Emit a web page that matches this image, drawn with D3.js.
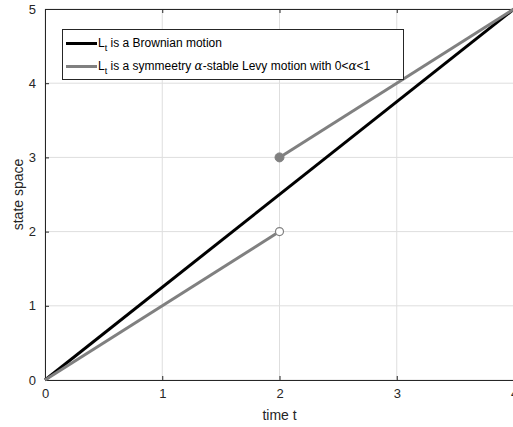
<!DOCTYPE html>
<html>
<head>
<meta charset="utf-8">
<script src="https://cdn.jsdelivr.net/npm/d3@7"></script>
<style>
  body { margin: 0; background: #fff; }
  svg { display: block; font-family: "Liberation Sans", Arial, sans-serif; }
</style>
</head>
<body>
<svg id="chart"></svg>
<script>
// data
const brownian = [{ t: 0, x: 0 }, { t: 4, x: 5 }];
const levyBefore = [{ t: 0, x: 0 }, { t: 2, x: 2 }];
const levyAfter = [{ t: 2, x: 3 }, { t: 4, x: 5 }];
const openPoints = [{ t: 2, x: 2 }];
const filledPoints = [{ t: 2, x: 3 }];
const xTicks = [0, 1, 2, 3, 4];
const yTicks = [0, 1, 2, 3, 4, 5];

const width = 513, height = 427;
const margins = { left: 45, right: -1, top: 9, bottom: 47 };

const svg = d3.select("svg#chart").attr("width", width).attr("height", height);

const xScale = d3.scaleLinear().domain([0, 4])
  .range([margins.left, width - margins.right]);
const yScale = d3.scaleLinear().domain([0, 5])
  .range([height - margins.bottom, margins.top]);

// grid
const grid = svg.append("g").attr("id", "grid");
grid.selectAll("line.gx").data(xTicks).join("line")
  .attr("class", "gx")
  .attr("x1", d => xScale(d)).attr("x2", d => xScale(d))
  .attr("y1", yScale(0)).attr("y2", yScale(5))
  .attr("stroke", "#dedede").attr("stroke-width", 1);
grid.selectAll("line.gy").data(yTicks).join("line")
  .attr("class", "gy")
  .attr("x1", xScale(0)).attr("x2", xScale(4))
  .attr("y1", d => yScale(d)).attr("y2", d => yScale(d))
  .attr("stroke", "#dedede").attr("stroke-width", 1);

// axes (ticks pointing inward like matlab)
const fmt = d3.format("d");
const xAxis = svg.append("g")
  .attr("transform", `translate(0,${yScale(0)})`)
  .call(d3.axisBottom(xScale).tickValues(xTicks).tickFormat(fmt).tickSizeInner(-4).tickSizeOuter(0).tickPadding(9));
const xAxisTop = svg.append("g")
  .attr("transform", `translate(0,${yScale(5)})`)
  .call(d3.axisTop(xScale).tickValues(xTicks).tickSizeInner(-4).tickSizeOuter(0).tickFormat(""));
const yAxis = svg.append("g")
  .attr("transform", `translate(${xScale(0)},0)`)
  .call(d3.axisLeft(yScale).tickValues(yTicks).tickFormat(fmt).tickSizeInner(-4).tickSizeOuter(0).tickPadding(9));

[xAxis, xAxisTop, yAxis].forEach(g => {
  g.select(".domain").attr("stroke", "#262626");
  g.selectAll(".tick line").attr("stroke", "#262626");
  g.selectAll("text").attr("font-size", 13).attr("fill", "#262626")
    .attr("font-family", "Liberation Sans, Arial, sans-serif");
});

// axis labels
svg.append("text")
  .attr("x", xScale(2)).attr("y", 420)
  .attr("text-anchor", "middle").attr("font-size", 14).attr("fill", "#262626")
  .text("time t");
svg.append("text")
  .attr("transform", `translate(23,${yScale(2.5)}) rotate(-90)`)
  .attr("text-anchor", "middle").attr("font-size", 14).attr("fill", "#262626")
  .text("state space");

// lines
const line = d3.line().x(d => xScale(d.t)).y(d => yScale(d.x));
const plot = svg.append("g").attr("id", "plot");
plot.append("path").datum(brownian).attr("d", line)
  .attr("fill", "none").attr("stroke", "#000").attr("stroke-width", 3);
plot.append("path").datum(levyBefore).attr("d", line)
  .attr("fill", "none").attr("stroke", "#808080").attr("stroke-width", 3);
plot.append("path").datum(levyAfter).attr("d", line)
  .attr("fill", "none").attr("stroke", "#808080").attr("stroke-width", 3);

plot.selectAll("circle.open").data(openPoints).join("circle")
  .attr("class", "open")
  .attr("cx", d => xScale(d.t)).attr("cy", d => yScale(d.x)).attr("r", 4)
  .attr("fill", "#fff").attr("stroke", "#808080").attr("stroke-width", 1.2);
plot.selectAll("circle.filled").data(filledPoints).join("circle")
  .attr("class", "filled")
  .attr("cx", d => xScale(d.t)).attr("cy", d => yScale(d.x)).attr("r", 4.5)
  .attr("fill", "#808080").attr("stroke", "#808080").attr("stroke-width", 1);

// legend
const legend = svg.append("g").attr("id", "legend");
legend.append("rect")
  .attr("x", 62.5).attr("y", 29.5).attr("width", 341).attr("height", 50)
  .attr("fill", "#fff").attr("stroke", "#262626").attr("stroke-width", 1);

const legendItems = [
  { color: "#000", rest: " is a Brownian motion" },
  { color: "#808080", rest: " is a symmeetry ", alpha: true }
];
legendItems.forEach((item, i) => {
  const y = 43.5 + i * 23;
  legend.append("line")
    .attr("x1", 66).attr("x2", 97).attr("y1", y).attr("y2", y)
    .attr("stroke", item.color).attr("stroke-width", 3);
  const t = legend.append("text")
    .attr("x", 98).attr("y", y + 3).attr("font-size", 12).attr("fill", "#000");
  t.append("tspan").text("L");
  t.append("tspan").attr("dy", 4).attr("font-size", 9).text("t");
  t.append("tspan").attr("dy", -4).text(item.rest);
  if (item.alpha) {
    t.append("tspan").attr("font-family", "DejaVu Serif, serif").attr("font-style", "italic").text("α");
    t.append("tspan").text("-stable Levy motion with 0<");
    t.append("tspan").attr("font-family", "DejaVu Serif, serif").attr("font-style", "italic").text("α");
    t.append("tspan").text("<1");
  }
});
</script>
</body>
</html>
